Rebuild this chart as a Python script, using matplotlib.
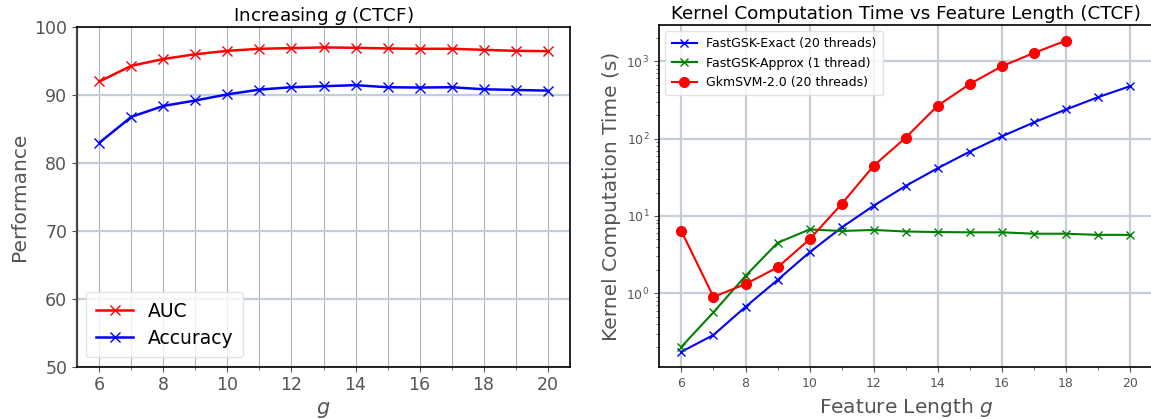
import matplotlib
matplotlib.use("Agg")
import matplotlib.pyplot as plt
from matplotlib.ticker import MultipleLocator

# ---- data ----
g_perf = [6, 7, 8, 9, 10, 11, 12, 13, 14, 15, 16, 17, 18, 19, 20]
auc = [91.95, 94.25, 95.25, 95.95, 96.45, 96.75, 96.85, 96.95, 96.9, 96.8, 96.75, 96.75, 96.6, 96.45, 96.4]
accuracy = [82.95, 86.75, 88.35, 89.15, 90.05, 90.75, 91.1, 91.25, 91.4, 91.1, 91.05, 91.1, 90.8, 90.7, 90.6]

g_time = [6, 7, 8, 9, 10, 11, 12, 13, 14, 15, 16, 17, 18, 19, 20]
exact_time = [0.176, 0.29, 0.67, 1.49, 3.4, 7.1, 13.6, 24.5, 41.5, 68, 107, 162, 238, 343, 476]
approx_time = [0.204, 0.57, 1.68, 4.5, 6.7, 6.4, 6.6, 6.3, 6.2, 6.15, 6.15, 5.9, 5.9, 5.7, 5.7]
g_gkm = [6, 7, 8, 9, 10, 11, 12, 13, 14, 15, 16, 17, 18]
gkm_time = [6.35, 0.90, 1.32, 2.17, 5.0, 14.3, 44.6, 103, 267, 508, 861, 1280, 1850]

GRAY = "#555555"
GRID = "#c3ced9"

W, H = 1151, 419
fig = plt.figure(figsize=(W / 100, H / 100), dpi=100)

def ax_at(l, r, t, b):
    return fig.add_axes([l / W, 1 - b / H, (r - l) / W, (b - t) / H])

# ---- left panel ----
ax1 = ax_at(77, 570, 26.7, 366.7)
ax1.plot(g_perf, auc, color="red", marker="x", markersize=6.5, lw=1.8, label="AUC")
ax1.plot(g_perf, accuracy, color="blue", marker="x", markersize=6.5, lw=1.8, label="Accuracy")
ax1.set_ylim(50, 100)
ax1.xaxis.set_major_locator(MultipleLocator(2))
ax1.xaxis.set_minor_locator(MultipleLocator(1))
ax1.yaxis.set_major_locator(MultipleLocator(10))
ax1.grid(True, axis="x", which="both", color="#aab6c3", lw=0.8)
ax1.grid(True, axis="y", which="major", color=GRID, lw=1.6)
ax1.set_axisbelow(True)
ax1.tick_params(axis="both", which="major", labelsize=12.5, colors=GRAY, labelcolor=GRAY)
ax1.tick_params(axis="x", which="minor", colors=GRAY)
ax1.set_xlabel("$g$", fontsize=15, color=GRAY)
ax1.set_ylabel("Performance", fontsize=14.5, color=GRAY)
ax1.set_title("Increasing $g$ (CTCF)", fontsize=13.2, pad=4)
ax1.spines["left"].set_color("#444444")
ax1.spines["left"].set_linewidth(1.6)
for s in ["bottom", "top", "right"]:
    ax1.spines[s].set_color("black")
    ax1.spines[s].set_linewidth(1.2)
ax1.legend(loc="lower left", fontsize=13.5, frameon=True, edgecolor="#dddddd",
           handlelength=2.0, borderpad=0.5, labelspacing=0.45)

# ---- right panel ----
ax2 = ax_at(659, 1152.5, 25, 367.3)
ax2.plot(g_time, exact_time, color="blue", marker="x", markersize=6, lw=1.5,
         label="FastGSK-Exact (20 threads)")
ax2.plot(g_time, approx_time, color="green", marker="x", markersize=6, lw=1.5,
         label="FastGSK-Approx (1 thread)")
ax2.plot(g_gkm, gkm_time, color="red", marker="o", markersize=7, lw=1.5,
         label="GkmSVM-2.0 (20 threads)")
ax2.set_yscale("log")
ax2.xaxis.set_major_locator(MultipleLocator(2))
ax2.xaxis.set_minor_locator(MultipleLocator(1))
ax2.grid(True, which="major", color=GRID, lw=1.6)
ax2.set_axisbelow(True)
ax2.tick_params(axis="both", which="both", labelsize=9, colors=GRAY, labelcolor=GRAY)
ax2.set_xlabel("Feature Length $g$", fontsize=14.5, color=GRAY)
ax2.set_ylabel("Kernel Computation Time (s)", fontsize=14.5, color=GRAY)
ax2.set_title("Kernel Computation Time vs Feature Length (CTCF)", fontsize=13.2, pad=4)
for s in ax2.spines.values():
    s.set_color("black")
    s.set_linewidth(1.2)
ax2.legend(loc="upper left", fontsize=9, frameon=True, edgecolor="#dddddd",
           handlelength=2.0, borderpad=0.5, labelspacing=0.5)

fig.savefig("out.png", dpi=100)
